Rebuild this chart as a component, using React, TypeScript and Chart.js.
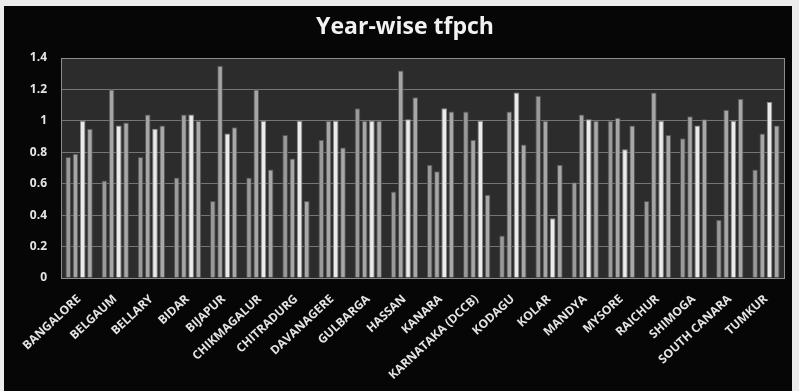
import React, { useEffect, useRef } from "react";
import { Chart, registerables } from "chart.js";

Chart.register(...registerables);

// Districts on the category axis
const categories = [
  "BANGALORE", "BELGAUM", "BELLARY", "BIDAR", "BIJAPUR", "CHIKMAGALUR",
  "CHITRADURG", "DAVANAGERE", "GULBARGA", "HASSAN", "KANARA",
  "KARNATAKA (DCCB)", "KODAGU", "KOLAR", "MANDYA", "MYSORE", "RAICHUR",
  "SHIMOGA", "SOUTH CANARA", "TUMKUR",
];

// tfpch per district, one array per year
const year1 = [0.77, 0.62, 0.77, 0.64, 0.49, 0.64, 0.91, 0.88, 1.08, 0.55, 0.72, 1.06, 0.27, 1.16, 0.61, 1.0, 0.49, 0.89, 0.37, 0.69];
const year2 = [0.79, 1.2, 1.04, 1.04, 1.35, 1.2, 0.76, 1.0, 1.0, 1.32, 0.68, 0.88, 1.06, 1.0, 1.04, 1.02, 1.18, 1.03, 1.07, 0.92];
const year3 = [1.0, 0.97, 0.95, 1.04, 0.92, 1.0, 1.0, 1.0, 1.0, 1.01, 1.08, 1.0, 1.18, 0.38, 1.01, 0.82, 1.0, 0.97, 1.0, 1.12];
const year4 = [0.95, 0.99, 0.97, 1.0, 0.96, 0.69, 0.49, 0.83, 1.0, 1.15, 1.06, 0.53, 0.85, 0.72, 1.0, 0.97, 0.91, 1.01, 1.14, 0.97];

const yTickLabels = ["0", "0.2", "0.4", "0.6", "0.8", "1", "1.2", "1.4"];
const chartTitle = "Year-wise tfpch";

const FONT = "'Open Sans', Lato, sans-serif";

// Dark plot panel with a light outline, plus the heading above it
const plotPanel = {
  id: "plotPanel",
  beforeDraw(chart: any) {
    const { ctx, chartArea: a } = chart;
    ctx.save();
    ctx.fillStyle = "#2c2c2c";
    ctx.fillRect(a.left, a.top, a.right - a.left, a.bottom - a.top);
    ctx.restore();
  },
  afterDatasetsDraw(chart: any) {
    const { ctx, chartArea: a } = chart;
    ctx.save();
    ctx.strokeStyle = "#8c8c8c";
    ctx.lineWidth = 1;
    ctx.strokeRect(Math.round(a.left) + 0.5, Math.round(a.top) + 0.5,
      Math.round(a.right - a.left), Math.round(a.bottom - a.top));
    ctx.restore();
  },
  afterDraw(chart: any) {
    const { ctx } = chart;
    ctx.save();
    ctx.fillStyle = "#f2f2f2";
    ctx.font = `bold 23px ${FONT}`;
    ctx.textAlign = "center";
    ctx.textBaseline = "middle";
    ctx.fillText(chartTitle, 405, 27);
    ctx.restore();
  },
};

function makeSet(label: string, data: number[], fill: string, edge: string) {
  return {
    label,
    data,
    backgroundColor: fill,
    borderColor: edge,
    borderWidth: { left: 1, right: 1, top: 1, bottom: 0 },
    borderSkipped: "bottom",
    categoryPercentage: 0.8,
    barPercentage: 0.78,
  };
}

export default function App() {
  const ref = useRef<HTMLCanvasElement>(null);

  useEffect(() => {
    document.body.style.margin = "0";
    const chart = new Chart(ref.current as HTMLCanvasElement, {
      type: "bar",
      data: {
        labels: categories,
        datasets: [
          makeSet("Year 1", year1, "#9a9a9a", "#505050"),
          makeSet("Year 2", year2, "#a6a6a6", "#555555"),
          makeSet("Year 3", year3, "#ebebeb", "#8a8a8a"),
          makeSet("Year 4", year4, "#a8a8a8", "#585858"),
        ] as any,
      },
      plugins: [plotPanel],
      options: {
        animation: false,
        responsive: false,
        devicePixelRatio: 1,
        layout: { padding: { left: 0, right: 15, top: 58, bottom: 0 } },
        plugins: {
          legend: { display: false },
          tooltip: { enabled: false },
          title: { display: false },
        },
        scales: {
          x: {
            grid: { display: false },
            border: { display: true, color: "#9a9a9a", width: 1 },
            ticks: {
              autoSkip: false,
              maxRotation: 43,
              minRotation: 43,
              padding: 6,
              color: "#e4e4e4",
              font: { family: FONT, size: 12, weight: "bold" },
            },
            afterFit(scale: any) {
              scale.height = 113;
            },
          },
          y: {
            min: 0,
            max: 1.4,
            ticks: {
              stepSize: 0.2,
              padding: 14,
              color: "#e4e4e4",
              font: { family: FONT, size: 12, weight: "bold" },
              callback: (_v: any, i: number) => yTickLabels[i],
            },
            grid: { color: "#767676", lineWidth: 1, drawTicks: false },
            border: { display: true, color: "#8c8c8c" },
            afterFit(scale: any) {
              scale.width = 61;
            },
          },
        },
      } as any,
    });
    return () => chart.destroy();
  }, []);

  return (
    <div style={{ position: "relative", width: 799, height: 391, background: "#ececec", overflow: "hidden" }}>
      <div style={{ position: "absolute", left: 4, top: 6, width: 788, height: 385, background: "#060606" }} />
      <canvas ref={ref} width={799} height={391} style={{ position: "absolute", left: 0, top: 0, width: 799, height: 391 }} />
    </div>
  );
}
